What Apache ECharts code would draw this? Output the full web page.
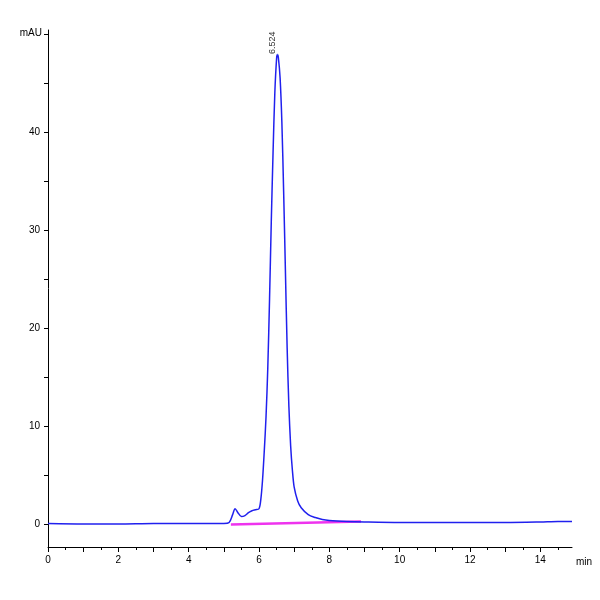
<!DOCTYPE html><html><head><meta charset="utf-8"><script src="https://cdn.jsdelivr.net/npm/echarts@6/dist/echarts.min.js"></script></head><body style="margin:0"><div id="c" style="width:600px;height:600px"></div><script>
const signalX=[0,1,2,3,4,5,5.15,5.25,5.32,5.4,5.5,5.6,5.7,5.8,5.9,6.0,6.05,6.1,6.15,6.2,6.25,6.3,6.35,6.4,6.45,6.5,6.524,6.55,6.6,6.65,6.7,6.75,6.8,6.85,6.9,6.95,7.0,7.1,7.2,7.4,7.6,7.8,8,8.5,9,10,11,12,13,14,14.5,14.9];
const signalY=[0.1,0.05,0.05,0.1,0.1,0.1,0.2,1.0,1.6,1.2,0.8,0.9,1.2,1.4,1.5,1.6,2.5,4.5,7.5,11,16,23,31,38,44,47.5,47.9,47.6,45.5,41,34,26,18,12,8,5.5,3.8,2.4,1.7,1.0,0.7,0.5,0.4,0.3,0.25,0.2,0.2,0.2,0.2,0.25,0.3,0.3];
const baseX=[5.2,8.9], baseY=[0,0.3];
const peakLabel='6.524';
const ch=echarts.init(document.getElementById('c'));
ch.setOption({animation:false,
grid:{left:48,right:28,top:30,bottom:53},
xAxis:{type:'value',min:0,max:14.9,interval:2,name:'min',nameGap:4,nameLocation:'end',nameTextStyle:{fontSize:10,color:'#000',verticalAlign:'top',padding:[10,0,0,0]},
 axisLine:{show:true,onZero:false,lineStyle:{color:'#000'}},axisTick:{show:true,lineStyle:{color:'#000'},length:5,customValues:[0,1,2,3,4,5,6,7,8,9,10,11,12,13,14]},
 minorTick:{show:true,splitNumber:4,length:3,lineStyle:{color:'#000'}},
 axisLabel:{color:'#000',fontSize:10,customValues:[0,2,4,6,8,10,12,14]},splitLine:{show:false}},
yAxis:{type:'value',min:-2.3,max:50.4,name:'mAU',nameLocation:'end',nameGap:-8,nameTextStyle:{fontSize:10,color:'#000',align:'right',padding:[0,6,0,0]},
 axisLine:{show:true,lineStyle:{color:'#000'}},
 axisLabel:{color:'#000',fontSize:10,customValues:[0,10,20,30,40]},axisTick:{show:true,length:4,customValues:[0,5,10,15,20,25,30,35,40,45,50],lineStyle:{color:'#000'}},splitLine:{show:false}},
series:[
{type:'line',data:signalX.map((x,i)=>[x,signalY[i]]),showSymbol:false,smooth:0.3,lineStyle:{color:'#2020ee',width:1.5},z:3,
 markPoint:{symbol:'circle',symbolSize:1,data:[{coord:[6.524,47.9],label:{show:true,formatter:peakLabel,rotate:90,position:'top',distance:0,fontSize:9,color:'#333',align:'left'}}]}},
{type:'line',data:baseX.map((x,i)=>[x,baseY[i]]),showSymbol:false,lineStyle:{color:'#ee33ee',width:2.5},z:2}
]});
</script></body></html>
